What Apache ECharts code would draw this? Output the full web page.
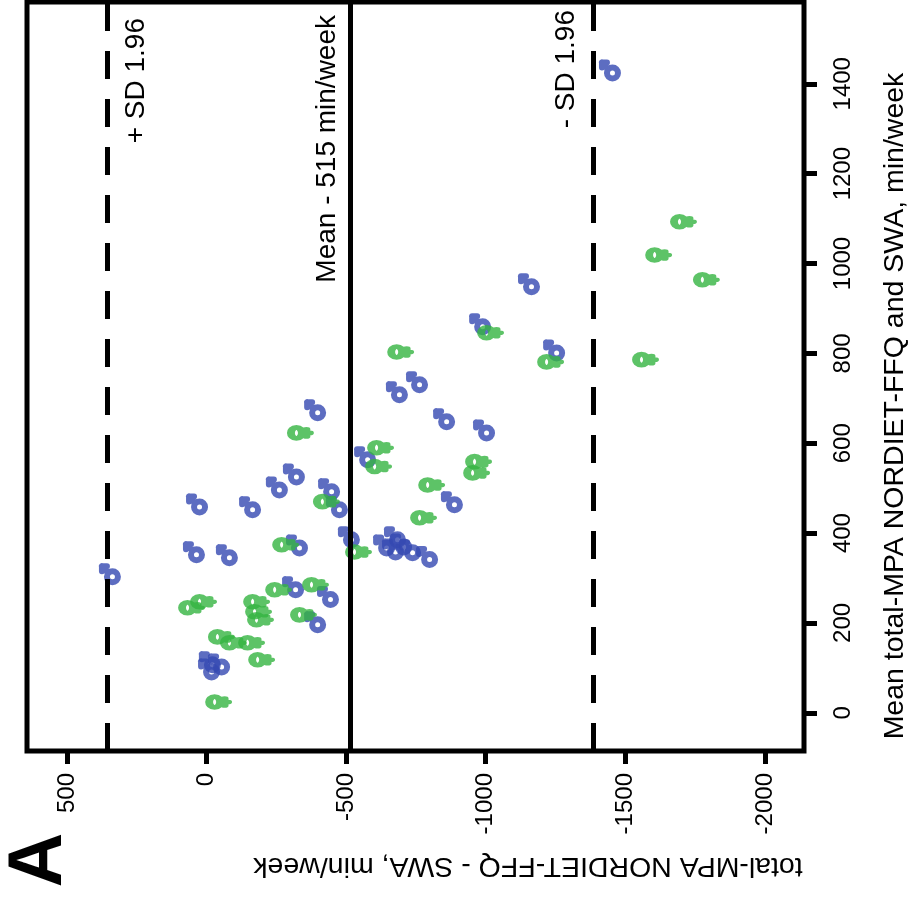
<!DOCTYPE html>
<html>
<head>
<meta charset="utf-8">
<script src="https://cdn.jsdelivr.net/npm/echarts@6/dist/echarts.min.js"></script>
<style>
html,body{margin:0;padding:0;background:#ffffff;}
#c{width:913px;height:899px;}
</style>
</head>
<body>
<div id="c"></div>
<script>
// ---- data (difference NORDIET-FFQ - SWA, mean of both), min/week ----
const xTicks = [500, 0, -500, -1000, -1500, -2000];
const yTicks = [0, 200, 400, 600, 800, 1000, 1200, 1400];
const xTitle = 'total-MPA NORDIET-FFQ - SWA, min/week';
const yTitle = 'Mean total-MPA NORDIET-FFQ and SWA, min/week';
const meanDiff = -515;
const upperLoA = 355;
const lowerLoA = -1385;

const maleDiff = [-1454, -1164, -989, -1254, -763, -691, -398, -860, -1003, -577, -322, -261, -448, 25, -165, -476, 337, 36, -82, -21, -54, -18, -888,
  -333, -519, -444, -398, -319, -645, -677, -706, -738, -684, -799];
const maleMean = [1424, 948, 859, 801, 730, 708, 668, 648, 623, 563, 525, 496, 492, 458, 452, 452, 303, 352, 345, 107, 102, 91, 463,
  367, 385, 252, 196, 274, 367, 358, 369, 356, 385, 341];

const femaleDiff = [-1694, -1605, -1776, -1003, -1218, -1558, -681, -322, -415, -609, -602, -960, -953, -792, 68, 25, -165, -172, -179, -39, -82, -147, -183, -29,
  -269, -530, -376, -333, -244, -763];
const femaleMean = [1093, 1019, 964, 846, 781, 786, 803, 623, 470, 590, 548, 559, 534, 507, 234, 247, 247, 225, 207, 169, 156, 156, 118, 24,
  374, 358, 285, 218, 274, 434];

const BLUE = '#3448b2';
const GREEN = '#35b441';
const FONT = '"Liberation Sans", Arial, Helvetica, sans-serif';

const maleSymbol = 'path://M-5.5,0A5.5,5.5,0,1,0,5.5,0A5.5,5.5,0,1,0,-5.5,0ZM-3.9,-3.9L-10.5,-10.5M-10.5,-5.5L-10.5,-10.5L-5.5,-10.5';
const femaleSymbol = 'path://M-5.5,0A5.5,5.5,0,1,0,5.5,0A5.5,5.5,0,1,0,-5.5,0ZM5.5,0L13.5,0M10,-3.5L10,3.5';

const maleData = maleDiff.map((d, i) => [d, maleMean[i]]);
const femaleData = femaleDiff.map((d, i) => [d, femaleMean[i]]);

const chart = echarts.init(document.getElementById('c'), null, {renderer: 'canvas'});

const plain = v => String(v);

const option = {
  animation: false,
  backgroundColor: '#ffffff',
  grid: {
    left: 27, right: 109, top: 2, bottom: 148,
    show: true, borderColor: '#000', borderWidth: 5, backgroundColor: 'transparent'
  },
  xAxis: {
    type: 'value',
    inverse: true,
    min: -2140,
    max: 643,
    position: 'bottom',
    axisLine: {show: false, onZero: false},
    splitLine: {show: false},
    axisTick: {show: true, customValues: xTicks, length: 13, inside: false, lineStyle: {color: '#000', width: 5}},
    axisLabel: {show: true, customValues: xTicks, formatter: plain, rotate: 90, margin: 22, fontSize: 24, fontFamily: FONT, color: '#000'}
  },
  yAxis: {
    type: 'value',
    min: -85,
    max: 1582,
    position: 'right',
    axisLine: {show: false, onZero: false},
    splitLine: {show: false},
    axisTick: {show: true, customValues: yTicks, length: 13, inside: false, lineStyle: {color: '#000', width: 5}},
    axisLabel: {show: true, customValues: yTicks, formatter: plain, rotate: 90, margin: 27, fontSize: 24, fontFamily: FONT, color: '#000'}
  },
  series: [
    {
      name: 'male',
      type: 'scatter',
      data: maleData,
      symbol: maleSymbol,
      symbolSize: [16, 16],
      symbolOffset: [-2.5, -2.5],
      silent: true,
      itemStyle: {color: 'rgba(0,0,0,0)', borderColor: BLUE, borderWidth: 6, borderJoin: 'round', borderCap: 'round'},
      emphasis: {disabled: true},
      z: 3,
      markLine: {
        silent: true,
        symbol: ['none', 'none'],
        animation: false,
        data: [
          {
            xAxis: upperLoA,
            lineStyle: {color: '#000', width: 5, type: [28, 20]},
            label: {show: true, formatter: '+ SD 1.96', position: 'insideEndBottom', distance: [16, 15], fontSize: 28, fontFamily: FONT, color: '#000'}
          },
          {
            xAxis: meanDiff,
            lineStyle: {color: '#000', width: 5, type: 'solid'},
            label: {show: true, formatter: 'Mean - 515 min/week', position: 'insideEndTop', distance: [13, 9], fontSize: 28, fontFamily: FONT, color: '#000'}
          },
          {
            xAxis: lowerLoA,
            lineStyle: {color: '#000', width: 5, type: [28, 20]},
            label: {show: true, formatter: '- SD 1.96', position: 'insideEndTop', distance: [8, 13], fontSize: 28, fontFamily: FONT, color: '#000'}
          }
        ]
      }
    },
    {
      name: 'female',
      type: 'scatter',
      data: femaleData,
      symbol: femaleSymbol,
      symbolSize: [19, 11],
      symbolOffset: [4, 0],
      silent: true,
      itemStyle: {color: 'rgba(0,0,0,0)', borderColor: GREEN, borderWidth: 6, borderJoin: 'round', borderCap: 'round'},
      emphasis: {disabled: true},
      z: 4
    }
  ],
  graphic: [
    {type: 'text', x: 895, y: 406, rotation: Math.PI / 2, silent: true,
      style: {text: yTitle, font: '28.5px ' + FONT, fill: '#000', align: 'center', verticalAlign: 'middle'}},
    {type: 'text', x: 528, y: 866, rotation: Math.PI, silent: true,
      style: {text: xTitle, font: '28.5px ' + FONT, fill: '#000', align: 'center', verticalAlign: 'middle'}},
    {type: 'text', x: 40, y: 860, rotation: Math.PI / 2, silent: true,
      style: {text: 'A', font: 'bold 76px ' + FONT, fill: '#000', align: 'center', verticalAlign: 'middle'}}
  ]
};
chart.setOption(option);
</script>
</body>
</html>
